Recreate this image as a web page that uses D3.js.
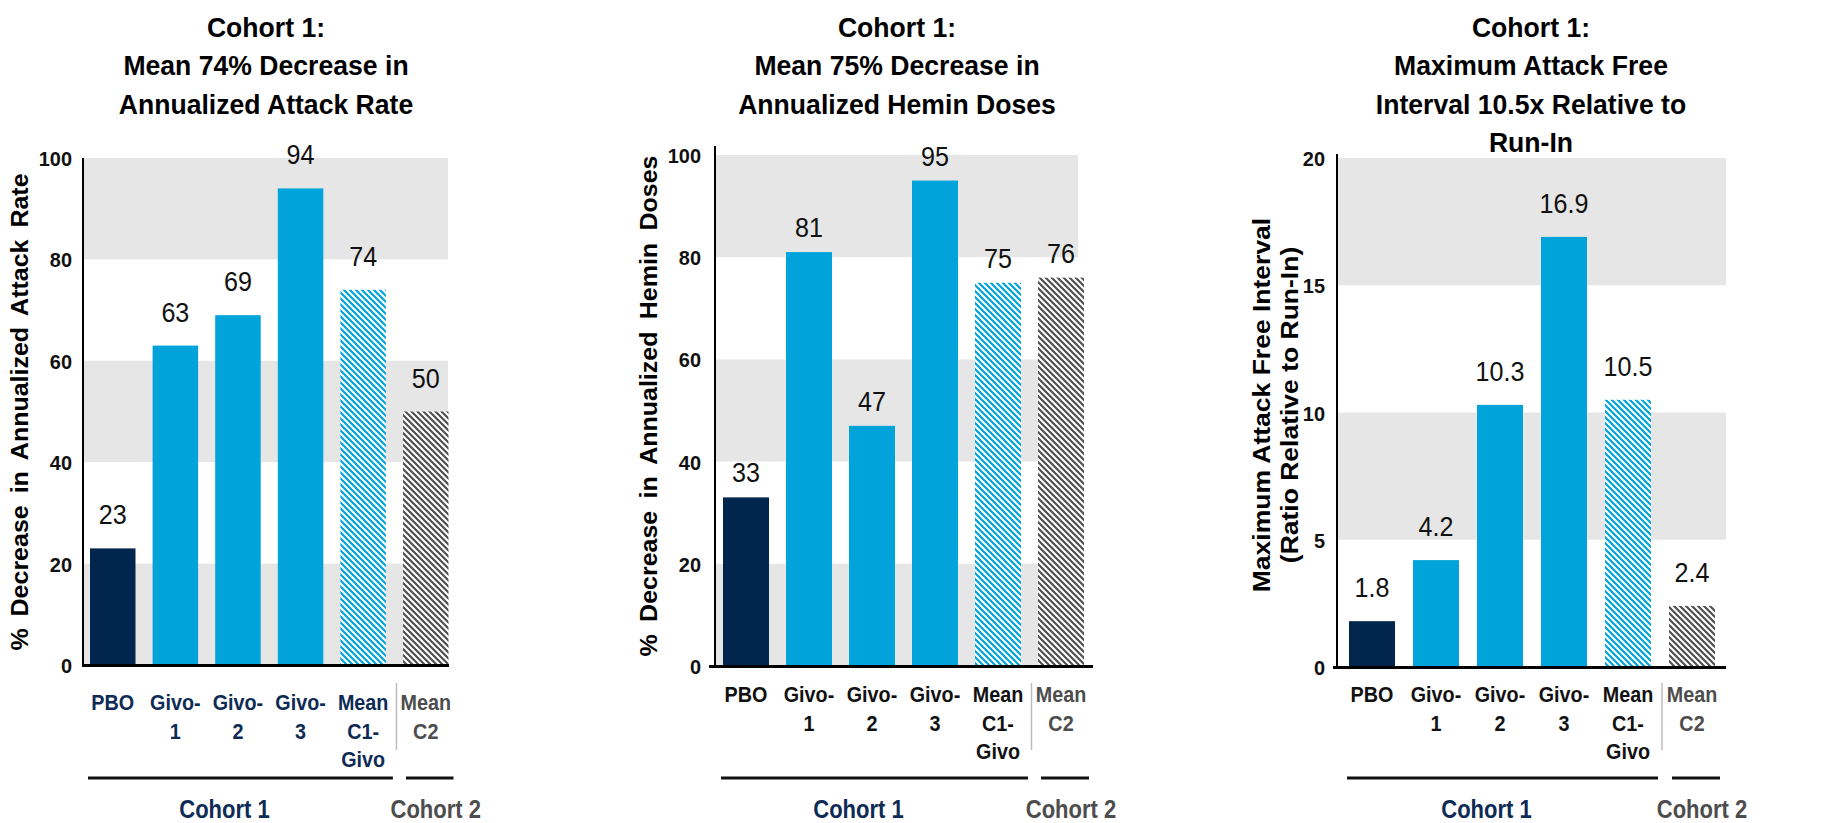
<!DOCTYPE html>
<html>
<head>
<meta charset="utf-8">
<script src="https://cdn.jsdelivr.net/npm/d3@7"></script>
<style>
  html, body { margin: 0; padding: 0; background: #ffffff; }
  svg { display: block; font-family: "Liberation Sans", Arial, sans-serif; }
</style>
</head>
<body>
<svg id="chart" width="1837" height="823"></svg>
<script>
// ---- data ----
const categories = ["PBO", "Givo-1", "Givo-2", "Givo-3", "Mean C1-Givo", "Mean C2"];
const categoryLines = [["PBO"], ["Givo-", "1"], ["Givo-", "2"], ["Givo-", "3"], ["Mean", "C1-", "Givo"], ["Mean", "C2"]];
const attackRateDecrease = [23, 63, 69, 94, 74, 50];
const heminDoseDecrease = [33, 81, 47, 95, 75, 76];
const attackFreeRatio = [1.8, 4.2, 10.3, 16.9, 10.5, 2.4];
const percentTicks = [0, 20, 40, 60, 80, 100];
const ratioTicks = [0, 5, 10, 15, 20];
const cohortNames = ["Cohort 1", "Cohort 2"];
const titleAttack = ["Cohort 1:", "Mean 74% Decrease in", "Annualized Attack Rate"];
const titleHemin = ["Cohort 1:", "Mean 75% Decrease in", "Annualized Hemin Doses"];
const titleInterval = ["Cohort 1:", "Maximum Attack Free", "Interval 10.5x Relative to", "Run-In"];
const yTitleAttack = ["% Decrease in Annualized Attack Rate"];
const yTitleHemin = ["% Decrease in Annualized Hemin Doses"];
const yTitleInterval = ["Maximum Attack Free Interval", "(Ratio Relative to Run-In)"];

// ---- styling ----
const BLUE = "#00a3da";
const GREY_TEXT = "#4d4d4d";
const BAND = "#e6e6e6";

const svg = d3.select("#chart");
const defs = svg.append("defs");

function hatch(id, color) {
  const p = defs.append("pattern")
    .attr("id", id).attr("patternUnits", "userSpaceOnUse")
    .attr("width", 6).attr("height", 6);
  p.append("rect").attr("width", 6).attr("height", 6).attr("fill", "#ffffff");
  p.append("path")
    .attr("d", "M-1,-1L7,7M-1,5L1,7M5,-1L7,1")
    .attr("stroke", color).attr("stroke-width", 2.2);
}
hatch("hatchBlue", BLUE);
hatch("hatchGrey", "#505050");

const barFill = ["#00264d", BLUE, BLUE, BLUE, "url(#hatchBlue)", "url(#hatchGrey)"];

// text with horizontally condensed lettering
function label(parent, x, y, str, o) {
  return parent.append("text")
    .attr("transform", `translate(${x},${y}) scale(${o.k || 1},1)`)
    .attr("text-anchor", o.anchor || "middle")
    .attr("font-size", o.size)
    .attr("font-weight", o.bold ? "bold" : "normal")
    .attr("fill", o.fill || "#000")
    .text(str);
}

function drawPanel(cfg) {
  const g = svg.append("g");
  const n = categories.length;
  const x = d3.scaleBand()
    .domain(categories)
    .range([cfg.barStart, cfg.barStart + n * cfg.step - (cfg.step - cfg.bw)])
    .paddingInner(1 - cfg.bw / cfg.step)
    .paddingOuter(0);
  const y = d3.scaleLinear().domain(cfg.domain).range([cfg.yBase, cfg.yTop]);

  // alternating background bands
  const bands = [];
  for (let i = 0; i < cfg.ticks.length - 1; i++) {
    if (i % 2 === cfg.bandParity) bands.push([cfg.ticks[i], cfg.ticks[i + 1]]);
  }
  g.selectAll("rect.band").data(bands).join("rect")
    .attr("class", "band")
    .attr("x", cfg.axisX).attr("width", cfg.bandRight - cfg.axisX)
    .attr("y", d => y(d[1])).attr("height", d => y(d[0]) - y(d[1]))
    .attr("fill", BAND);

  // bars
  g.selectAll("rect.bar").data(cfg.values).join("rect")
    .attr("class", "bar")
    .attr("x", (d, i) => x(categories[i]))
    .attr("width", x.bandwidth())
    .attr("y", d => y(d))
    .attr("height", d => y(0) - y(d))
    .attr("fill", (d, i) => barFill[i]);

  // value labels
  cfg.values.forEach((v, i) => {
    label(g, x(categories[i]) + x.bandwidth() / 2, y(v) - cfg.labelGap,
      d3.format(cfg.fmt)(v), { size: 27, k: 0.93, fill: "#111" });
  });

  // y axis ticks
  const kTick = 0.95;
  const yAxis = g.append("g")
    .attr("transform", `translate(${cfg.axisX},0)`)
    .call(d3.axisLeft(y).tickValues(cfg.ticks).tickSize(0).tickPadding(cfg.tickPad / kTick).tickFormat(d3.format("d")));
  yAxis.select(".domain").remove();
  yAxis.selectAll("text")
    .attr("font-size", 21).attr("font-weight", "bold").attr("fill", "#111")
    .attr("font-family", "Liberation Sans, Arial, sans-serif")
    .attr("dy", "0.36em")
    .attr("transform", `scale(${kTick},1)`);

  g.append("line")
    .attr("x1", cfg.axisX).attr("x2", cfg.axisX)
    .attr("y1", cfg.axisTop).attr("y2", cfg.yBase + 1)
    .attr("stroke", "#000").attr("stroke-width", 2);

  // x axis: baseline and multi-line category labels
  const xAxis = g.append("g")
    .attr("transform", `translate(0,${cfg.yBase})`)
    .call(d3.axisBottom(x).tickSize(0).tickFormat(""));
  xAxis.select(".domain").remove();
  g.append("line")
    .attr("x1", cfg.baseLeft).attr("x2", cfg.baseRight)
    .attr("y1", cfg.yBase + 0.5).attr("y2", cfg.yBase + 0.5)
    .attr("stroke", "#000").attr("stroke-width", 3);

  categories.forEach((c, i) => {
    categoryLines[i].forEach((line, j) => {
      label(g, x(c) + x.bandwidth() / 2, cfg.labelTop + j * 28.5, line,
        { size: 21.5, bold: true, k: 0.92, fill: i === n - 1 ? GREY_TEXT : cfg.catColor });
    });
  });

  // separator between cohorts
  const c1End = x(categories[n - 2]) + x.bandwidth();
  const c2Start = x(categories[n - 1]);
  const sepX = (c1End + c2Start) / 2 + 2;
  g.append("line")
    .attr("x1", sepX).attr("x2", sepX).attr("y1", 683).attr("y2", 750)
    .attr("stroke", "#bdbdbd").attr("stroke-width", 1.5);

  // cohort brackets
  const c1x0 = x(categories[0]) - 2, c1x1 = c1End + 7;
  const c2x0 = c2Start + 3, c2x1 = c2Start + x.bandwidth() + 5;
  g.append("line").attr("x1", c1x0).attr("x2", c1x1).attr("y1", 778).attr("y2", 778)
    .attr("stroke", "#111").attr("stroke-width", 3);
  g.append("line").attr("x1", c2x0).attr("x2", c2x1).attr("y1", 778).attr("y2", 778)
    .attr("stroke", "#111").attr("stroke-width", 3);
  label(g, (c1x0 + c1x1) / 2 - 16, 818, cohortNames[0], { size: 25, bold: true, k: 0.88, fill: "#0d2b55" });
  label(g, (c2x0 + c2x1) / 2 + 6, 818, cohortNames[1], { size: 25, bold: true, k: 0.88, fill: GREY_TEXT });

  // chart title
  cfg.title.forEach((line, j) => {
    label(g, cfg.titleX, 37 + j * 38.3, line, { size: 28, bold: true, k: 0.95 });
  });

  // y axis title (rotated, condensed across the line)
  cfg.yTitle.forEach((line, j) => {
    g.append("text")
      .attr("transform", `translate(${cfg.yTitleX + j * 28},${cfg.yTitleY}) scale(0.93,1) rotate(-90)`)
      .attr("text-anchor", "middle").attr("font-size", cfg.yTitleSize).attr("font-weight", "bold")
      .attr("word-spacing", cfg.yWordSpacing)
      .attr("fill", "#000").text(line);
  });
}

drawPanel({
  values: attackRateDecrease, ticks: percentTicks, domain: [0, 100], fmt: "d",
  axisX: 83, axisTop: 158, bandRight: 448, bandParity: 0,
  yBase: 665, yTop: 158, barStart: 90, step: 62.6, bw: 45.5,
  baseLeft: 82, baseRight: 449, tickPad: 11, labelGap: 24, labelTop: 710,
  catColor: "#0d2b55", title: titleAttack, titleX: 266,
  yTitle: yTitleAttack, yTitleX: 28, yTitleY: 412, yTitleSize: 25, yWordSpacing: 5
});

drawPanel({
  values: heminDoseDecrease, ticks: percentTicks, domain: [0, 100], fmt: "d",
  axisX: 715, axisTop: 146, bandRight: 1078, bandParity: 0,
  yBase: 666, yTop: 155, barStart: 723, step: 63, bw: 46,
  baseLeft: 709, baseRight: 1093, tickPad: 14, labelGap: 15, labelTop: 702,
  catColor: "#111111", title: titleHemin, titleX: 897,
  yTitle: yTitleHemin, yTitleX: 657, yTitleY: 406, yTitleSize: 25, yWordSpacing: 5.4
});

drawPanel({
  values: attackFreeRatio, ticks: ratioTicks, domain: [0, 20], fmt: ".1f",
  axisX: 1337, axisTop: 154, bandRight: 1726, bandParity: 1,
  yBase: 667, yTop: 158, barStart: 1349, step: 64, bw: 46,
  baseLeft: 1333, baseRight: 1726, tickPad: 12, labelGap: 24, labelTop: 702,
  catColor: "#111111", title: titleInterval, titleX: 1531,
  yTitle: yTitleInterval, yTitleX: 1270, yTitleY: 405, yTitleSize: 26.5, yWordSpacing: 0
});
</script>
</body>
</html>
